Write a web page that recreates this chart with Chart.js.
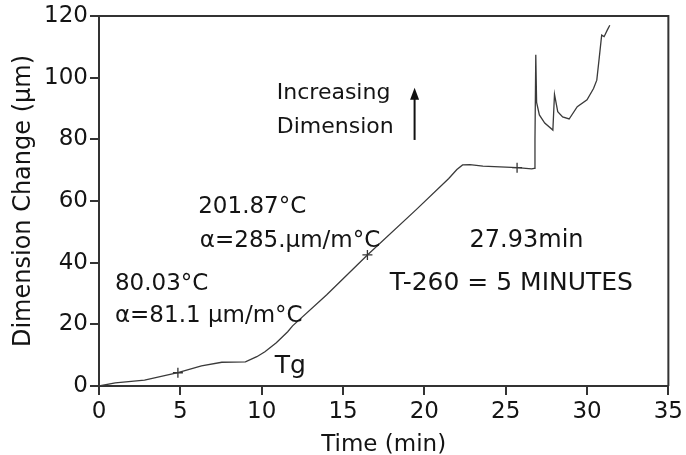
<!DOCTYPE html>
<html><head><meta charset="utf-8">
<script src="https://cdn.jsdelivr.net/npm/chart.js@4/dist/chart.umd.min.js"></script>
<style>html,body{margin:0;padding:0;background:#fff}#wrap{width:686px;height:455px}</style>
</head><body><div id="wrap"><canvas id="c" width="686" height="455"></canvas></div>
<script>
// ---- data ----
const timeMin = [0, 1.0, 2.8, 4.85, 6.3, 7.55, 9.0, 9.7, 10.2, 10.9, 11.6, 11.9, 14.0, 16.5, 19.5, 21.5, 22.0, 22.35, 22.8, 23.6, 25.7, 26.6, 26.75, 26.8, 26.85, 26.9, 27.07, 27.4, 27.9, 28.0, 28.2, 28.5, 28.9, 29.4, 30.0, 30.4, 30.6, 30.75, 30.9, 31.05, 31.25, 31.4];
const dimChange = [0, 1.0, 1.9, 4.3, 6.5, 7.7, 7.8, 9.5, 11.1, 14.0, 17.6, 19.5, 29.6, 42.5, 57.2, 67.3, 70.2, 71.7, 71.8, 71.3, 70.8, 70.4, 70.6, 80, 107.4, 92, 87.9, 85.3, 83, 94.6, 89, 87.3, 86.6, 90.6, 92.8, 96.5, 99.2, 106.4, 113.8, 113.3, 115.5, 117];
const markerTime = [4.85, 16.5, 25.7];
const markerDim = [4.3, 42.5, 70.8];
const xTickValues = [0, 5, 10, 15, 20, 25, 30, 35];
const yTickValues = [0, 20, 40, 60, 80, 100, 120];
const noteTexts = ['80.03°C', 'α=81.1 μm/m°C', '201.87°C', 'α=285.μm/m°C', 'Tg', 'Increasing', 'Dimension', '27.93min', 'T-260 = 5 MINUTES'];
// anchor of each note, in data units (time, dimension) – left / baseline
const noteTime = [0.98, 0.98, 6.1, 6.2, 10.8, 10.93, 10.93, 22.78, 17.87];
const noteDim = [31.1, 20.8, 56.1, 45.1, 4.2, 93.1, 82.1, 45.1, 31.1];
const noteSize = [23, 23, 23, 23, 25, 22, 22, 24, 25];
const arrowTime = 19.4, arrowFrom = 79.8, arrowTo = 96.7;

const FONT = '"DejaVu Sans", sans-serif';
const INK = '#141414';
const AXIS = '#333';

const mainPts = timeMin.map((t, i) => ({x: t, y: dimChange[i]}));
const markPts = markerTime.map((t, i) => ({x: t, y: markerDim[i]}));

const extras = {
  id: 'extras',
  afterDraw(chart) {
    const {ctx, chartArea: a, scales: {x, y}} = chart;
    ctx.save();
    ctx.strokeStyle = AXIS; ctx.lineWidth = 2;
    ctx.beginPath();
    ctx.moveTo(a.left, a.top); ctx.lineTo(a.right, a.top); ctx.lineTo(a.right, a.bottom);
    ctx.stroke();
    ctx.fillStyle = INK; ctx.textAlign = 'left'; ctx.textBaseline = 'alphabetic';
    noteTexts.forEach((t, i) => {
      ctx.font = noteSize[i] + 'px ' + FONT;
      ctx.fillText(t, x.getPixelForValue(noteTime[i]), y.getPixelForValue(noteDim[i]));
    });
    const ax = x.getPixelForValue(arrowTime);
    const y0 = y.getPixelForValue(arrowFrom), y1 = y.getPixelForValue(arrowTo);
    ctx.strokeStyle = '#111'; ctx.lineWidth = 2;
    ctx.beginPath(); ctx.moveTo(ax, y0); ctx.lineTo(ax, y1 + 8); ctx.stroke();
    ctx.fillStyle = '#111';
    ctx.beginPath(); ctx.moveTo(ax, y1); ctx.lineTo(ax - 4.5, y1 + 12); ctx.lineTo(ax + 4.5, y1 + 12); ctx.closePath(); ctx.fill();
    ctx.restore();
  }
};

new Chart(document.getElementById('c'), {
  type: 'scatter',
  data: {
    datasets: [
      {data: mainPts, showLine: true, borderColor: '#3a3a3a', borderWidth: 1.3, pointRadius: 0, tension: 0, fill: false},
      {data: markPts, showLine: false, pointStyle: 'cross', pointRadius: 5, borderColor: '#333', borderWidth: 1.3}
    ]
  },
  options: {
    responsive: false,
    animation: false,
    devicePixelRatio: 1,
    layout: {padding: {top: 16, right: 17, left: 0, bottom: 0}},
    plugins: {legend: {display: false}, tooltip: {enabled: false}},
    scales: {
      x: {
        type: 'linear', min: 0, max: 35,
        afterBuildTicks: s => { s.ticks = xTickValues.map(v => ({value: v})); },
        afterFit: s => { s.height = 69; },
        ticks: {color: INK, font: {family: FONT, size: 23}, padding: 3, maxRotation: 0},
        grid: {drawOnChartArea: false, tickLength: 9, color: AXIS, lineWidth: 2},
        border: {color: AXIS, width: 2},
        title: {display: true, text: 'Time (min)', color: INK, font: {family: FONT, size: 23, lineHeight: 0.85}, padding: {top: 0, bottom: 0}}
      },
      y: {
        type: 'linear', min: 0, max: 120,
        afterBuildTicks: s => { s.ticks = yTickValues.map(v => ({value: v})); },
        afterFit: s => { s.width = 99; },
        ticks: {color: INK, font: {family: FONT, size: 23}, padding: 2},
        grid: {drawOnChartArea: false, tickLength: 9, color: AXIS, lineWidth: 2},
        border: {color: AXIS, width: 2},
        title: {display: true, text: 'Dimension Change (μm)', color: INK, font: {family: FONT, size: 24, lineHeight: 1}, padding: {top: 12, bottom: 0}}
      }
    }
  },
  plugins: [extras]
});
</script></body></html>
